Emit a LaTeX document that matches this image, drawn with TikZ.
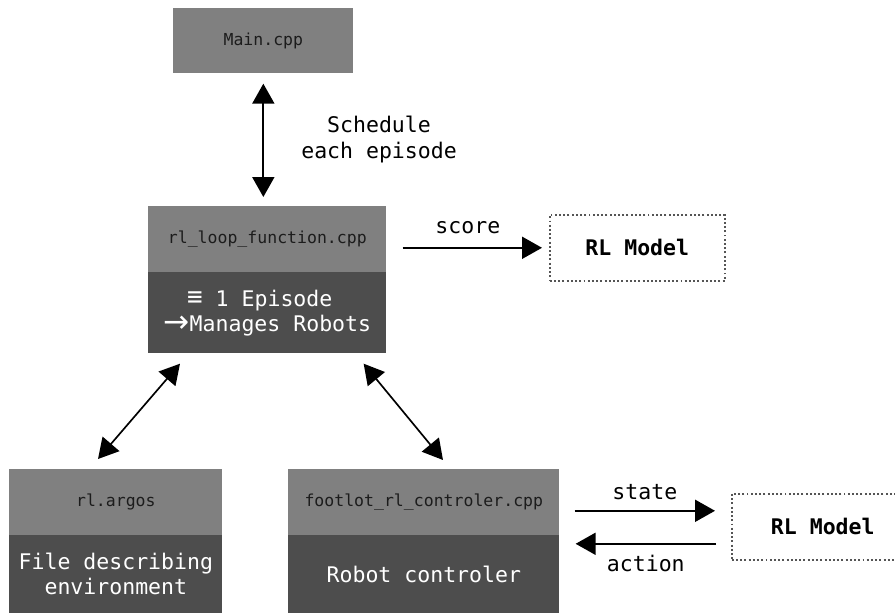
\documentclass[tikz,border=0pt]{standalone}
\usepackage{fontspec}
\setmonofont{DejaVu Sans Mono}
\newfontfamily\symfont{DejaVu Sans}
\usetikzlibrary{arrows.meta,calc}
\definecolor{hdgray}{HTML}{808080}
\definecolor{bodygray}{HTML}{4D4D4D}
\definecolor{inkdark}{HTML}{1C1C1C}
\definecolor{dotgray}{HTML}{555555}
\newcommand{\bigto}{\raisebox{-0.05em}{\symfont\scalebox{1.45}[1.45]{→}}}
\newcommand{\bigequiv}{\raisebox{0.02em}{\scalebox{1.2}[1.2]{≡}}}
\begin{document}
\begin{tikzpicture}[x=0.02cm,y=-0.02cm,
  head/.style={fill=hdgray, draw=none, anchor=north west, inner sep=0pt,
    text=inkdark, font=\ttfamily\fontsize{9.4pt}{11pt}\selectfont},
  body/.style={fill=bodygray, draw=none, anchor=north west, inner sep=0pt,
    text=white, align=center, font=\ttfamily\fontsize{12.25pt}{14.2pt}\selectfont},
  model/.style={draw=dotgray, line width=0.9pt, dash pattern=on 1.1pt off 1.3pt,
    anchor=north west, inner sep=0pt, text=black,
    font=\ttfamily\bfseries\fontsize{12.25pt}{14pt}\selectfont},
  lbl/.style={font=\ttfamily\fontsize{12.25pt}{14.8pt}\selectfont, text=black,
    align=center, inner sep=0pt},
  tip/.tip={Triangle[length=0.4cm,width=0.44cm]},
  link/.style={line width=1.1pt, tip-tip},
  flow/.style={line width=1.1pt, -tip},
]
\useasboundingbox (0,0) rectangle (895,613);

% source files
\node[head, minimum width=3.6cm, minimum height=1.3cm] (main) at (173,8) {Main.cpp};

\node[head, minimum width=4.76cm, minimum height=1.32cm] (loopT) at (148,206) {rl\_loop\_function.cpp};
\node[body, minimum width=4.76cm, minimum height=1.62cm] (loopB) at (148,272)
  {\bigequiv{} 1 Episode\kern0.7em\null\\\bigto Manages Robots};

\node[head, minimum width=4.26cm, minimum height=1.32cm] (argT) at (9,469) {rl.argos};
\node[body, minimum width=4.26cm, minimum height=1.56cm] (argB) at (9,535)
  {File describing\\environment};

\node[head, minimum width=5.42cm, minimum height=1.32cm] (ctrlT) at (288,469) {footlot\_rl\_controler.cpp};
\node[body, minimum width=5.42cm, minimum height=1.56cm] (ctrlB) at (288,535)
  {Robot controler};

% learning models
\node[model, minimum width=3.5cm, minimum height=1.32cm] (rlA) at (549,214) {RL Model};
\node[model, minimum width=3.64cm, minimum height=1.32cm] (rlB) at (731,493) {RL Model};

% connections
\draw[link, shorten <=0.2cm, shorten >=0.18cm] (main.south) -- (main.south |- loopT.north)
  node[lbl, midway, right=0.74cm] {Schedule\\each episode};

\draw[flow, shorten <=0.32cm, shorten >=0.14cm] (rlA.west -| loopT.east) -- (rlA.west)
  node[lbl, midway, above=0.26cm] {score};

\draw[link, line width=0.95pt] ($(loopB.south west)+(32,10)$) -- ($(argT.north west)+(89,-10)$);
\draw[link, line width=0.95pt] ($(loopB.south east)+(-23,10)$) -- ($(ctrlT.north west)+(155,-9)$);

\draw[flow] ($(ctrlT.east |- rlB.west)+(15,-16)$) -- ($(rlB.west)+(-16,-16)$)
  node[lbl, midway, above=0.2cm] {state};
\draw[flow] ($(rlB.west)+(-15,17)$) -- ($(ctrlT.east |- rlB.west)+(16,17)$)
  node[lbl, midway, below=0.2cm] {action};
\end{tikzpicture}
\end{document}
